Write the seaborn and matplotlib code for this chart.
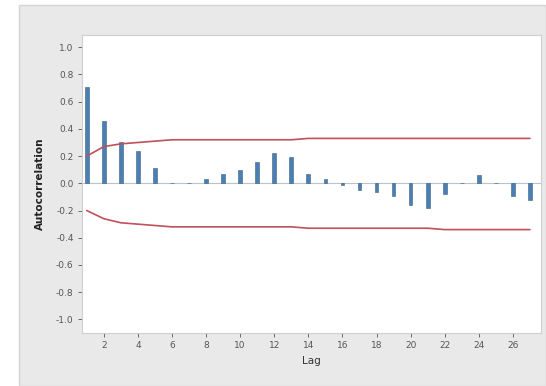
import matplotlib
matplotlib.use("Agg")
import matplotlib.pyplot as plt
from matplotlib.patches import Rectangle
import seaborn as sns
import pandas as pd

# Autocorrelation function by lag, with 5% significance limits
lags = list(range(1, 28))
acf = [0.71, 0.46, 0.30, 0.24, 0.115, 0.005, 0.0, 0.035, 0.065, 0.10,
       0.16, 0.22, 0.19, 0.07, 0.035, -0.01, -0.047, -0.065, -0.09, -0.16,
       -0.18, -0.08, 0.0, 0.06, 0.0, -0.09, -0.12]
upper_limit = [0.20, 0.27, 0.29, 0.30, 0.31, 0.32, 0.32, 0.32, 0.32, 0.32,
               0.32, 0.32, 0.32, 0.33, 0.33, 0.33, 0.33, 0.33, 0.33, 0.33,
               0.33, 0.33, 0.33, 0.33, 0.33, 0.33, 0.33]
lower_limit = [-0.20, -0.26, -0.29, -0.30, -0.31, -0.32, -0.32, -0.32, -0.32, -0.32,
               -0.32, -0.32, -0.32, -0.33, -0.33, -0.33, -0.33, -0.33, -0.33, -0.33,
               -0.33, -0.34, -0.34, -0.34, -0.34, -0.34, -0.34]
x_ticks = [2, 4, 6, 8, 10, 12, 14, 16, 18, 20, 22, 24, 26]
y_ticks = [1.0, 0.8, 0.6, 0.4, 0.2, 0.0, -0.2, -0.4, -0.6, -0.8, -1.0]

df = pd.DataFrame({"Lag": lags, "ACF": acf, "Upper": upper_limit, "Lower": lower_limit})

sns.set_theme(style="white")
plt.rcParams["font.family"] = ["DejaVu Sans"]

fig = plt.figure(figsize=(5.46, 3.86), dpi=100, facecolor="white")
# light grey panel behind the chart
fig.patches.append(Rectangle((19 / 546, 0), 1 - 19 / 546, (386 - 5) / 386,
                             transform=fig.transFigure, facecolor="#e9e9e9",
                             edgecolor="#d4d4d4", linewidth=1.0, zorder=-10))
ax = fig.add_axes([82 / 546, (386 - 333) / 386, (541 - 82) / 546, (333 - 35) / 386])
ax.set_zorder(5)
ax.set_facecolor("white")

ax.axhline(0, color="#b8c4cc", linewidth=0.8, zorder=1)

sns.barplot(data=df, x="Lag", y="ACF", native_scale=True, width=0.22,
            color="#4a7fb3", saturation=1, edgecolor="#3c5f80", linewidth=0.4,
            ax=ax, zorder=2)
sns.lineplot(data=df, x="Lag", y="Upper", color="#c0505a", linewidth=1.2, ax=ax, zorder=3)
sns.lineplot(data=df, x="Lag", y="Lower", color="#c0505a", linewidth=1.2, ax=ax, zorder=3)

ax.set_xlim(0.72, 27.65)
ax.set_ylim(-1.1, 1.09)
ax.set_xticks(x_ticks)
ax.set_xticklabels([str(t) for t in x_ticks])
ax.set_yticks(y_ticks)
ax.set_yticklabels([f"{t:.1f}" for t in y_ticks])
ax.tick_params(axis="both", labelsize=6.5, colors="#555555", length=3, width=0.6,
               direction="out", bottom=True, left=True, pad=3)
for s in ax.spines.values():
    s.set_color("#cfcfcf")
    s.set_linewidth(0.8)

ax.set_xlabel("Lag", fontsize=7.5, color="#333333", labelpad=4)
ax.set_ylabel("Autocorrelation", fontsize=7.5, color="#222222", fontweight="bold", labelpad=8)

fig.savefig("out.png", dpi=100, facecolor=fig.get_facecolor())
